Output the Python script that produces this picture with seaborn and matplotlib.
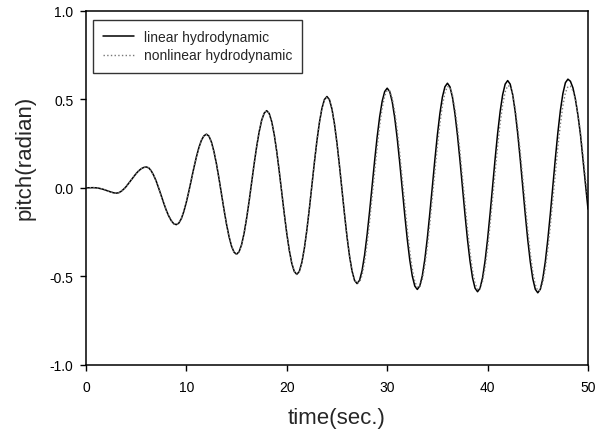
"""
Pitch response of the vehicle: linear vs nonlinear hydrodynamic model.
"""
import matplotlib
matplotlib.use("Agg")
import matplotlib.pyplot as plt
import seaborn as sns

# time axis, 0.25 s steps (0 .. 50 s)
time_sec = [i * 0.25 for i in range(201)]

pitch_linear = [
    # 0 - 3 s
    0.000, 0.0005, 0.001, 0.001, 0.000, -0.002, -0.005, -0.009, -0.014, -0.019, -0.024, -0.028, -0.030,
    # 3 - 6
    -0.028, -0.020, -0.008, 0.007, 0.025, 0.044, 0.063, 0.081, 0.096, 0.108, 0.115, 0.118,
    # 6 - 9
    0.113, 0.096, 0.070, 0.037, -0.003, -0.045, -0.087, -0.127, -0.160, -0.186, -0.203, -0.208,
    # 9 - 12
    -0.199, -0.174, -0.133, -0.080, -0.019, 0.048, 0.114, 0.175, 0.228, 0.269, 0.294, 0.303,
    # 12 - 15
    0.292, 0.258, 0.204, 0.134, 0.052, -0.036, -0.124, -0.206, -0.276, -0.330, -0.364, -0.375,
    # 15 - 18
    -0.361, -0.321, -0.256, -0.172, -0.075, 0.031, 0.136, 0.233, 0.317, 0.382, 0.422, 0.436,
    # 18 - 21
    0.420, 0.374, 0.301, 0.205, 0.093, -0.027, -0.146, -0.258, -0.353, -0.427, -0.473, -0.489,
    # 21 - 24
    -0.472, -0.422, -0.342, -0.238, -0.117, 0.014, 0.144, 0.265, 0.369, 0.449, 0.499, 0.516,
    # 24 - 27
    0.498, 0.445, 0.361, 0.252, 0.124, -0.013, -0.149, -0.277, -0.386, -0.470, -0.523, -0.541,
    # 27 - 30
    -0.522, -0.467, -0.379, -0.265, -0.132, 0.011, 0.154, 0.287, 0.401, 0.489, 0.544, 0.563,
    # 30 - 33
    0.544, 0.487, 0.396, 0.279, 0.142, -0.006, -0.153, -0.290, -0.408, -0.498, -0.555, -0.574,
    # 33 - 36
    -0.554, -0.496, -0.403, -0.283, -0.142, 0.009, 0.159, 0.300, 0.420, 0.513, 0.571, 0.591,
    # 36 - 39
    0.571, 0.512, 0.418, 0.297, 0.155, 0.002, -0.151, -0.293, -0.414, -0.508, -0.567, -0.587,
    # 39 - 42
    -0.567, -0.507, -0.412, -0.289, -0.145, 0.010, 0.164, 0.308, 0.431, 0.526, 0.586, 0.606,
    # 42 - 45
    0.586, 0.526, 0.430, 0.306, 0.162, 0.007, -0.149, -0.293, -0.417, -0.513, -0.573, -0.593,
    # 45 - 48
    -0.573, -0.512, -0.416, -0.291, -0.146, 0.011, 0.167, 0.312, 0.437, 0.533, 0.594, 0.614,
    # 48 - 50
    0.602, 0.565, 0.500, 0.410, 0.300, 0.160, 0.020, -0.120,
]

pitch_nonlinear = [
    # 0 - 3 s
    0.000, 0.0005, 0.001, 0.001, 0.000, -0.002, -0.005, -0.009, -0.014, -0.019, -0.024, -0.028, -0.030,
    # 3 - 6
    -0.028, -0.020, -0.008, 0.007, 0.025, 0.044, 0.063, 0.081, 0.096, 0.108, 0.115, 0.118,
    # 6 - 9
    0.113, 0.096, 0.070, 0.037, -0.003, -0.045, -0.087, -0.127, -0.160, -0.186, -0.203, -0.208,
    # 9 - 12
    -0.199, -0.174, -0.133, -0.080, -0.019, 0.048, 0.114, 0.175, 0.228, 0.269, 0.294, 0.303,
    # 12 - 15
    0.292, 0.258, 0.204, 0.134, 0.052, -0.036, -0.124, -0.206, -0.276, -0.330, -0.364, -0.375,
    # 15 - 18
    -0.361, -0.321, -0.256, -0.172, -0.075, 0.031, 0.136, 0.233, 0.317, 0.382, 0.422, 0.436,
    # 18 - 21
    0.420, 0.374, 0.301, 0.205, 0.093, -0.027, -0.146, -0.258, -0.353, -0.427, -0.473, -0.489,
    # 21 - 24
    -0.472, -0.422, -0.342, -0.238, -0.117, 0.014, 0.144, 0.265, 0.369, 0.449, 0.499, 0.512,
    # 24 - 27
    0.494, 0.442, 0.358, 0.250, 0.123, -0.013, -0.149, -0.276, -0.384, -0.468, -0.520, -0.538,
    # 27 - 30
    -0.534, -0.494, -0.419, -0.315, -0.189, -0.050, 0.092, 0.230, 0.352, 0.450, 0.519, 0.552,
    # 30 - 33
    0.548, 0.507, 0.430, 0.324, 0.195, 0.053, -0.093, -0.234, -0.358, -0.459, -0.529, -0.563,
    # 33 - 36
    -0.559, -0.517, -0.439, -0.331, -0.200, -0.055, 0.094, 0.237, 0.363, 0.466, 0.537, 0.572,
    # 36 - 39
    0.568, 0.525, 0.446, 0.338, 0.205, 0.059, -0.091, -0.236, -0.364, -0.468, -0.540, -0.575,
    # 39 - 42
    -0.571, -0.528, -0.449, -0.340, -0.206, -0.060, 0.091, 0.237, 0.365, 0.469, 0.542, 0.577,
    # 42 - 45
    0.573, 0.530, 0.450, 0.340, 0.206, 0.058, -0.093, -0.240, -0.369, -0.474, -0.547, -0.582,
    # 45 - 48
    -0.578, -0.535, -0.456, -0.346, -0.213, -0.066, 0.086, 0.231, 0.360, 0.464, 0.537, 0.572,
    # 48 - 50
    0.574, 0.548, 0.495, 0.415, 0.318, 0.190, 0.055, -0.080,
]

x_ticks = [0, 10, 20, 30, 40, 50]
y_ticks = [-1.0, -0.5, 0.0, 0.5, 1.0]

sns.set_style("ticks")
plt.rcParams["font.family"] = ["Liberation Sans", "DejaVu Sans"]

fig = plt.figure(figsize=(6.08, 4.35), dpi=100)
ax = fig.add_axes([0.1414, 0.159, 0.8257, 0.8138])

sns.lineplot(x=time_sec, y=pitch_linear, ax=ax, color="black", linewidth=1.1,
             label="linear hydrodynamic")
sns.lineplot(x=time_sec, y=pitch_nonlinear, ax=ax, color="#777777", linewidth=1.0,
             linestyle=":", label="nonlinear hydrodynamic")

ax.set_xlim(0, 50)
ax.set_ylim(-1.0, 1.0)
ax.set_xticks(x_ticks)
ax.set_yticks(y_ticks)
ax.set_yticklabels([f"{v:.1f}" for v in y_ticks])
ax.tick_params(direction="out", length=4, width=1, labelsize=10, colors="black")
ax.tick_params(axis="x", pad=7)
ax.tick_params(axis="y", pad=5)
for sp in ax.spines.values():
    sp.set_visible(True)
    sp.set_color("black")
    sp.set_linewidth(1.1)

ax.set_xlabel("time(sec.)", fontsize=16)
ax.set_ylabel("pitch(radian)", fontsize=16)
ax.xaxis.set_label_coords(0.5, -0.118)
ax.yaxis.set_label_coords(-0.10, 0.588)

leg = ax.legend(loc="upper left", fontsize=10, frameon=True, fancybox=False,
                borderpad=0.75, labelspacing=0.3, handlelength=2.2, handletextpad=0.7,
                bbox_to_anchor=(0.014, 0.9746), borderaxespad=0)
leg.get_frame().set_edgecolor("black")
leg.get_frame().set_linewidth(1.0)

plt.savefig("out.png", dpi=100)
plt.close()
